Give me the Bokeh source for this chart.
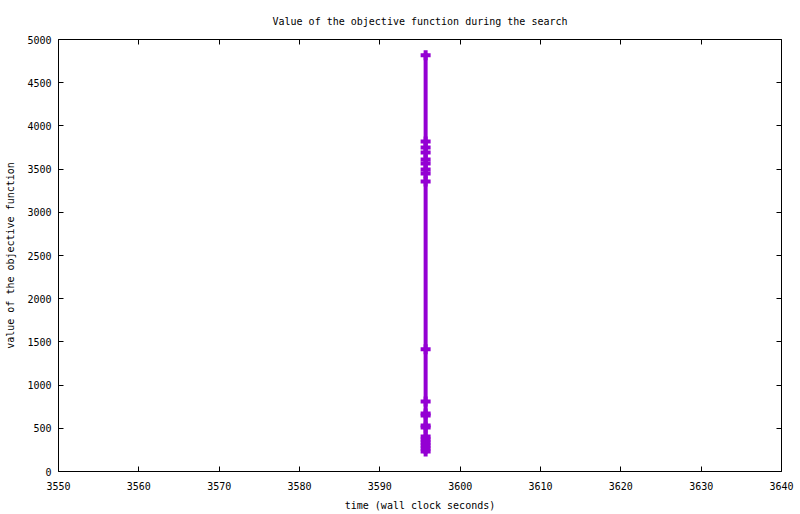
from bokeh.plotting import figure
from bokeh.models import LinearAxis, FixedTicker, Range1d
from bokeh.embed import file_html
from bokeh.resources import INLINE

# data (time in wall clock seconds, objective value)
time_s = [3595.7, 3595.7, 3595.7, 3595.7, 3595.7, 3595.7, 3595.7,
          3595.7, 3595.7, 3595.7, 3595.7, 3595.7, 3595.7, 3595.7,
          3595.7, 3595.7, 3595.7, 3595.7, 3595.7, 3595.7, 3595.7]
objective = [4818, 3819, 3750, 3692, 3611, 3565, 3495, 3449, 3356, 1415,
             810, 671, 648, 532, 509, 405, 370, 336, 301, 266, 231]

x_ticks = [3550, 3560, 3570, 3580, 3590, 3600, 3610, 3620, 3630, 3640]
y_ticks = [0, 500, 1000, 1500, 2000, 2500, 3000, 3500, 4000, 4500, 5000]

title = "Value of the objective function during the search"
x_label = "time (wall clock seconds)"
y_label = "value of the objective function"

FONT = "DejaVu Sans Mono"
COLOR = "#9400D3"

p = figure(width=800, height=514, output_backend="svg", toolbar_location=None,
           x_range=Range1d(3550, 3640), y_range=Range1d(0, 5000),
           min_border_left=58, min_border_right=19, min_border_top=39,
           min_border_bottom=43, x_axis_label=x_label, y_axis_label=y_label)

p.title.text = title
p.title.text_font = FONT
p.title.text_font_size = "10px"
p.title.text_font_style = "normal"
p.title.text_color = "black"
p.title.align = "center"
p.title.standoff = 26

p.grid.visible = False
p.outline_line_color = "black"
p.outline_line_alpha = 1.0
p.outline_line_width = 1
p.background_fill_color = "white"
p.border_fill_color = "white"

for ax, ticks in ((p.xaxis[0], x_ticks), (p.yaxis[0], y_ticks)):
    ax.ticker = FixedTicker(ticks=ticks)
    ax.major_tick_in = 5
    ax.major_tick_out = 0
    ax.minor_tick_line_color = None
    ax.major_tick_line_color = "black"
    ax.axis_line_color = None
    ax.major_label_text_font = FONT
    ax.major_label_text_font_size = "10px"
    ax.major_label_text_color = "black"
    ax.axis_label_text_font = FONT
    ax.axis_label_text_font_size = "10px"
    ax.axis_label_text_font_style = "normal"
    ax.axis_label_text_color = "black"

p.xaxis[0].major_label_standoff = 10
p.xaxis[0].axis_label_standoff = 7
p.yaxis[0].major_label_standoff = 7
p.yaxis[0].axis_label_standoff = 8

# mirrored ticks on top and right
for loc, ticks in (("above", x_ticks), ("right", y_ticks)):
    ax = LinearAxis(ticker=FixedTicker(ticks=ticks))
    ax.major_tick_in = 5
    ax.major_tick_out = 0
    ax.minor_tick_line_color = None
    ax.axis_line_color = None
    ax.major_label_text_font_size = "0px"
    ax.major_label_standoff = 0
    ax.major_label_text_alpha = 0
    p.add_layout(ax, loc)

p.line(time_s, objective, line_width=4, color=COLOR, line_cap="square")
p.scatter(time_s, objective, marker="cross", size=10, line_width=4, color=COLOR)

open("out.html", "w").write(file_html(p, INLINE))
